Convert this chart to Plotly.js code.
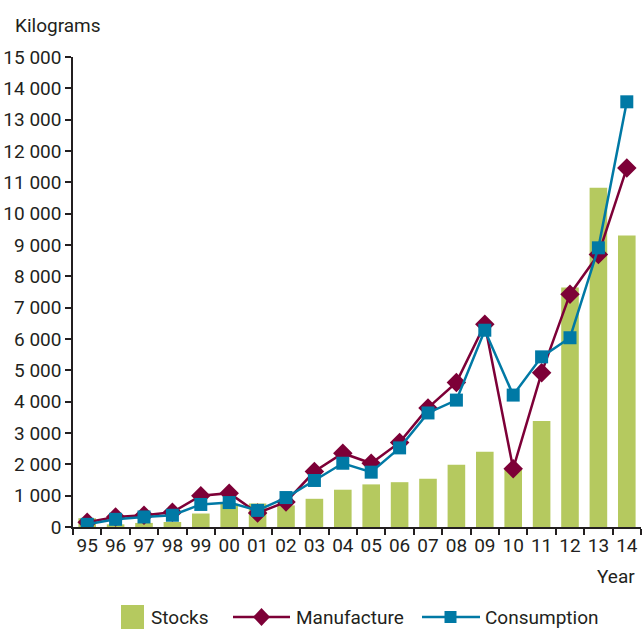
<!DOCTYPE html>
<html>
<head>
<meta charset="utf-8">
<script src="https://cdn.plot.ly/plotly-3.0.1.min.js"></script>
<style>html,body{margin:0;padding:0;background:#fff;}#chart{width:643px;height:642px;}</style>
</head>
<body>
<div id="chart"></div>
<script>
const years = ['95','96','97','98','99','00','01','02','03','04','05','06','07','08','09','10','11','12','13','14'];
const stocks = [280, 85, 130, 160, 430, 745, 750, 690, 900, 1190, 1360, 1430, 1540, 1985, 2400, 1825, 3385, 7640, 10830, 9300];
const manufacture = [150, 320, 375, 470, 1000, 1080, 445, 800, 1770, 2355, 2035, 2700, 3800, 4615, 6470, 1860, 4920, 7430, 8700, 11455];
const consumption = [85, 245, 320, 375, 720, 780, 530, 940, 1485, 2035, 1750, 2525, 3640, 4050, 6280, 4210, 5430, 6040, 8910, 13570];
const seriesNames = ['Stocks', 'Manufacture', 'Consumption'];

const FONT = 'Roboto, "Liberation Sans", sans-serif';
const TXT = '#231f20';
const FS = 19;
const C_BAR = '#b5c95f', C_MAN = '#7d0037', C_CON = '#0079a5';

// plot-area geometry (pixels) used for the hand-drawn legend
const M = {l:73, r:2, t:57, b:115}, W = 643, H = 642;
const PW = W - M.l - M.r, PH = H - M.t - M.b;
const px = v => (v - M.l) / PW;
const py = v => (H - M.b - v) / PH;

const traces = [
  {type:'bar', name:seriesNames[0], x:years, y:stocks, marker:{color:C_BAR}},
  {type:'scatter', mode:'lines+markers', name:seriesNames[1], x:years, y:manufacture,
   line:{color:C_MAN, width:2.5}, marker:{symbol:'diamond', size:15, color:C_MAN}},
  {type:'scatter', mode:'lines+markers', name:seriesNames[2], x:years, y:consumption,
   line:{color:C_CON, width:2.5}, marker:{symbol:'square', size:13, color:C_CON}}
];

const ly = 617;
const shapes = [
  {type:'rect', xref:'paper', yref:'paper', x0:px(121), x1:px(144), y0:py(629), y1:py(605),
   fillcolor:C_BAR, line:{width:0}},
  {type:'line', xref:'paper', yref:'paper', x0:px(233), x1:px(290), y0:py(ly), y1:py(ly),
   line:{color:C_MAN, width:2.5}},
  {type:'path', xref:'paper', yref:'paper', fillcolor:C_MAN, line:{width:0},
   path:`M${px(261.5)},${py(ly-9)} L${px(270)},${py(ly)} L${px(261.5)},${py(ly+9)} L${px(253)},${py(ly)} Z`},
  {type:'line', xref:'paper', yref:'paper', x0:px(422), x1:px(480), y0:py(ly), y1:py(ly),
   line:{color:C_CON, width:2.5}},
  {type:'rect', xref:'paper', yref:'paper', x0:px(444.5), x1:px(456.5), y0:py(623), y1:py(611),
   fillcolor:C_CON, line:{width:0}}
];

const annotations = [
  {text:'Kilograms', xref:'paper', yref:'paper', x:px(13), y:py(26), xanchor:'left', yanchor:'middle',
   showarrow:false, font:{family:FONT, size:FS, color:TXT}},
  {text:'Year', xref:'paper', yref:'paper', x:px(637), y:py(576), xanchor:'right', yanchor:'middle',
   showarrow:false, font:{family:FONT, size:FS, color:TXT}},
  {text:seriesNames[0], xref:'paper', yref:'paper', x:px(149), y:py(ly), xanchor:'left', yanchor:'middle',
   showarrow:false, font:{family:FONT, size:FS, color:TXT}},
  {text:seriesNames[1], xref:'paper', yref:'paper', x:px(294), y:py(ly), xanchor:'left', yanchor:'middle',
   showarrow:false, font:{family:FONT, size:FS, color:TXT}},
  {text:seriesNames[2], xref:'paper', yref:'paper', x:px(483), y:py(ly), xanchor:'left', yanchor:'middle',
   showarrow:false, font:{family:FONT, size:FS, color:TXT}}
];

const layout = {
  width:W, height:H,
  margin:M,
  paper_bgcolor:'#fff', plot_bgcolor:'#fff',
  separators:'. ',
  font:{family:FONT, size:FS, color:TXT},
  bargap:0.38,
  showlegend:false,
  xaxis:{type:'category', range:[-0.5, 19.5], showline:true, linecolor:TXT, linewidth:1.5, tickangle:0,
         ticks:'outside', ticklen:6, tickwidth:1.5, tickcolor:TXT, tickson:'boundaries',
         showgrid:false, zeroline:false, tickfont:{family:FONT, size:FS, color:TXT}},
  yaxis:{range:[0,15000], dtick:1000, tickformat:',d', showline:true, linecolor:TXT, linewidth:1.5,
         ticks:'outside', ticklen:6, tickwidth:1.5, tickcolor:TXT,
         showgrid:false, zeroline:false, tickfont:{family:FONT, size:FS, color:TXT}},
  shapes:shapes,
  annotations:annotations
};

Plotly.newPlot('chart', traces, layout, {displayModeBar:false});
</script>
</body>
</html>
